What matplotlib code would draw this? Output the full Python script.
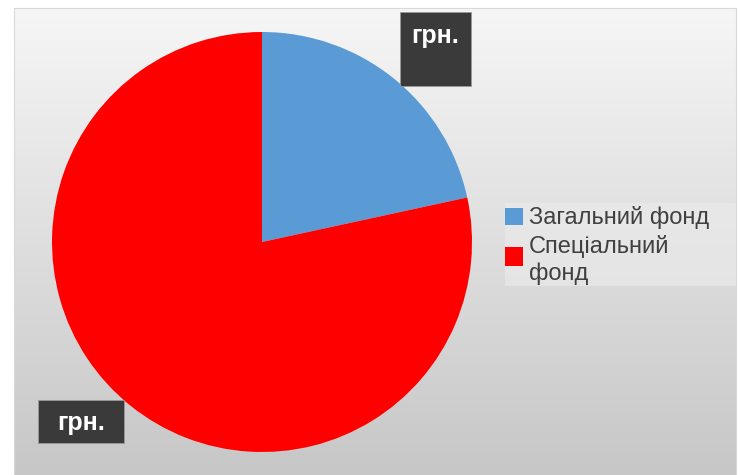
import numpy as np
import matplotlib
matplotlib.use("Agg")
import matplotlib.pyplot as plt
from matplotlib.patches import Rectangle

categories = ["Загальний фонд", "Спеціальний фонд"]
values = [21.6, 78.4]
colors = ["#5b9bd5", "#ff0000"]
legend_labels = ["Загальний фонд", "Спеціальний\nфонд"]
data_label = "грн."

W, H = 740, 475
fig = plt.figure(figsize=(W / 100, H / 100), dpi=100)
fig.patch.set_facecolor("white")

# background gradient panel
bg = fig.add_axes([14 / W, 0, (736 - 14) / W, (H - 8) / H])
grad = np.linspace(0, 1, 256)[:, None]
top = np.array([0.965, 0.965, 0.965])
bot = np.array([0.78, 0.78, 0.78])
img = top[None, None, :] * (1 - grad[..., None]) + bot[None, None, :] * grad[..., None]
img = np.repeat(img, 2, axis=1)
bg.imshow(img, aspect="auto", extent=[0, 1, 0, 1])
bg.set_xlim(0, 1); bg.set_ylim(0, 1)
for s in bg.spines.values():
    s.set_color("#d9d9d9")
bg.set_xticks([]); bg.set_yticks([])

# pie
cx, cy, r = 262, 242, 210
ax = fig.add_axes([(cx - r) / W, (H - cy - r) / H, 2 * r / W, 2 * r / H])
ax.pie(values, colors=colors, startangle=90, counterclock=False,
       wedgeprops=dict(linewidth=0))
ax.set_aspect("equal")
ax.set_xlim(-1, 1); ax.set_ylim(-1, 1)
ax.axis("off")

def px(x, y):
    return x / W, 1 - y / H

# data label boxes
fam = ["Liberation Sans Narrow", "Liberation Sans", "DejaVu Sans"]
for (x0, y0, x1, y1, ty) in [(400, 12, 471, 86, 43), (38, 400, 124, 443, 430)]:
    fig.patches.append(Rectangle(px(x0, y1), (x1 - x0) / W, (y1 - y0) / H,
                                 transform=fig.transFigure, facecolor="#3a3a3a",
                                 edgecolor="#9a9a9a", linewidth=0.6))
    fig.text((x0 + x1) / 2 / W, 1 - ty / H, data_label, color="white",
             fontsize=18, fontweight="bold", ha="center", va="baseline", family=fam)

# legend
fig.patches.append(Rectangle(px(505, 286), (736 - 505) / W, 83 / H,
                             transform=fig.transFigure, facecolor="#ececec",
                             edgecolor="none", alpha=0.6))
baselines = [[224], [253, 280]]
patch_box = [(208, 225), (247, 266)]
for lab, col, (pt, pb), bls in zip(legend_labels, colors, patch_box, baselines):
    fig.patches.append(Rectangle(px(505, pb), 18 / W, (pb - pt) / H,
                                 transform=fig.transFigure, facecolor=col, edgecolor="none"))
    for line, bl in zip(lab.split("\n"), bls):
        fig.text(529 / W, 1 - bl / H, line, color="#404040", fontsize=17,
                 ha="left", va="baseline", family=["Liberation Sans", "DejaVu Sans"])

fig.savefig("out.png", dpi=100)
